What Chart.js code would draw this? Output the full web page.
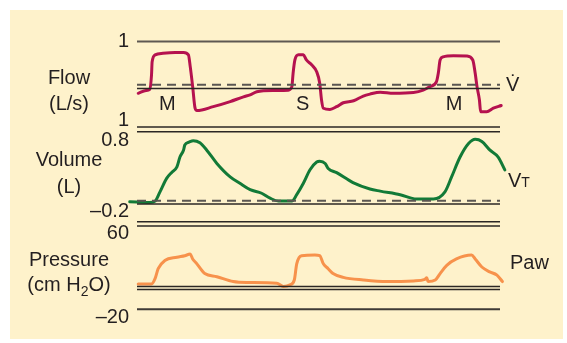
<!DOCTYPE html>
<html>
<head>
<meta charset="utf-8">
<script src="https://cdn.jsdelivr.net/npm/chart.js@4.4.1/dist/chart.umd.min.js"></script>
<style>
  body { margin: 0; background: #fff; }
  #wrap { position: relative; width: 567px; height: 343px; font-family: 'Liberation Sans', Arial, sans-serif; color: #231f20; }
  #bg { position: absolute; left: 10px; top: 10px; width: 553px; height: 329px; background: #fef2cb; }
  canvas { position: absolute; left: 0; top: 0; width: 567px; height: 343px; }
  .lbl { position: absolute; font-size: 20px; line-height: 20px; white-space: nowrap; transform: translate(-50%, -50%); }
  .side { position: absolute; font-size: 20px; line-height: 20px; white-space: nowrap; transform: translateY(-50%); }
</style>
</head>
<body>
<div id="wrap">
  <div id="bg"></div>
  <canvas id="flow-chart" width="567" height="343"></canvas>
  <canvas id="volume-chart" width="567" height="343"></canvas>
  <canvas id="pressure-chart" width="567" height="343"></canvas>

  <div class="lbl" style="left:69px; top:77px;">Flow</div>
  <div class="lbl" style="left:69px; top:103px;">(L/s)</div>
  <div class="lbl" style="left:69px; top:159px;">Volume</div>
  <div class="lbl" style="left:69px; top:186px;">(L)</div>
  <div class="lbl" style="left:69px; top:259px;">Pressure</div>
  <div class="lbl" style="left:69px; top:284px;">(cm H<sub style="font-size:14px; line-height:0; vertical-align:-5px;">2</sub>O)</div>

  <div class="side" style="left:506px; top:84px;">V&#775;</div>
  <div class="side" style="left:508px; top:181px;">V<span style="font-size:14px;">T</span></div>
  <div class="side" style="left:510px; top:262px;">Paw</div>
</div>

<script>
// time axis (s)
const timeMin = 0;
const timeMax = 6;

// flow trace (L/s)
const flowTime = [0.02, 0.15, 0.21, 0.24, 0.25, 0.30, 0.43, 0.63, 0.77, 0.85, 0.88, 0.92, 0.96, 0.99,
  1.26, 1.54, 1.76, 1.87, 1.98, 2.25, 2.50, 2.56, 2.58, 2.61, 2.67, 2.75, 2.80, 2.89, 2.97,
  3.02, 3.05, 3.08, 3.19, 3.30, 3.41, 3.58, 3.74, 3.85, 4.02, 4.24, 4.57, 4.73, 4.84, 4.95,
  4.98, 5.01, 5.06, 5.23, 5.45, 5.55, 5.59, 5.62, 5.66, 5.68, 5.78, 5.89, 6.02];
const flowValues = [-0.32, -0.25, -0.22, 0.15, 0.48, 0.66, 0.70, 0.72, 0.72, 0.66, 0.36, -0.15, -0.70, -0.76,
  -0.66, -0.53, -0.41, -0.36, -0.28, -0.25, -0.24, -0.15, 0.19, 0.53, 0.66, 0.66, 0.53, 0.40, 0.23,
  -0.06, -0.49, -0.70, -0.73, -0.66, -0.56, -0.51, -0.39, -0.34, -0.29, -0.32, -0.30, -0.24, -0.15, -0.02,
  0.19, 0.53, 0.61, 0.64, 0.63, 0.53, 0.19, -0.15, -0.49, -0.79, -0.79, -0.70, -0.63];

// volume trace (L)
const volumeTime = [-0.12, 0.21, 0.30, 0.38, 0.49, 0.57, 0.66, 0.71, 0.77, 0.79, 0.86, 0.93, 1.04, 1.15,
  1.32, 1.54, 1.70, 1.87, 2.06, 2.20, 2.34, 2.56, 2.64, 2.75, 2.86, 2.97, 3.02, 3.11, 3.16,
  3.30, 3.57, 3.85, 4.02, 4.35, 4.62, 4.90, 5.09, 5.20, 5.34, 5.48, 5.59, 5.70, 5.83, 5.97, 6.08];
const volumeValues = [-0.07, -0.08, -0.06, 0.07, 0.26, 0.34, 0.42, 0.56, 0.66, 0.73, 0.77, 0.79, 0.76, 0.66,
  0.47, 0.28, 0.19, 0.10, 0.05, -0.02, -0.06, -0.06, 0.03, 0.19, 0.38, 0.49, 0.50, 0.47, 0.40,
  0.34, 0.20, 0.11, 0.08, 0.03, -0.03, -0.03, 0.07, 0.28, 0.56, 0.75, 0.81, 0.78, 0.66, 0.56, 0.38];

// airway pressure trace (cm H2O)
const pressureTime = [0.02, 0.24, 0.30, 0.35, 0.46, 0.66, 0.79, 0.88, 0.92, 0.99, 1.07, 1.12, 1.32, 1.59,
  1.81, 2.31, 2.42, 2.53, 2.60, 2.64, 2.72, 2.94, 3.02, 3.08, 3.16, 3.24, 3.41, 3.74, 4.13,
  4.57, 4.76, 4.79, 4.81, 4.93, 5.01, 5.12, 5.28, 5.53, 5.59, 5.70, 5.83, 5.95, 6.04];
const pressureValues = [12.0, 12.0, 17.2, 26.4, 34.1, 37.2, 38.7, 40.2, 35.6, 31.0, 24.9, 21.8, 18.8, 14.2,
  13.3, 12.6, 9.6, 11.1, 15.7, 31.0, 38.7, 39.3, 38.7, 31.0, 26.4, 21.8, 18.2, 15.7, 14.2,
  14.8, 16.3, 17.9, 14.2, 15.7, 21.8, 29.5, 35.6, 39.3, 35.6, 28.0, 23.4, 20.3, 14.2];

// axis ticks
const flowTicks = [1, -1];
const volumeTicks = [0.8, -0.2];
const pressureTicks = [60, -20];

// reference levels
const flowSolidLevels = [-0.2];
const flowGreyLevels = [1];
const flowDashedLevels = [-0.1];
const volumeSolidLevels = [0.983, 0.917, -0.101, -0.351, -0.411];
const volumeDashedLevels = [-0.055];
const pressureSolidLevels = [9.6, 6.6];
const pressureGreyLevels = [-11.9];

// breath type marks on the flow trace
const breathLabels = ['M', 'S', 'M'];
const breathTimes = [0.5, 2.74, 5.24];
const breathLabelLevel = -0.6;

const FONT = "'Liberation Sans', Arial, sans-serif";
const TEXT = '#231f20';

function levelLine(v, color, width, dash) {
    return {
        data: [{ x: timeMin, y: v }, { x: timeMax, y: v }],
        borderColor: color,
        borderWidth: width,
        borderDash: dash || [],
        pointRadius: 0,
        clip: false
    };
}

function trace(time, values, color) {
    return {
        data: time.map((t, i) => ({ x: t, y: values[i] })),
        borderColor: color,
        borderWidth: 3,
        pointRadius: 0,
        cubicInterpolationMode: 'monotone',
        borderCapStyle: 'round',
        borderJoinStyle: 'round',
        clip: false
    };
}

function makePanel(id, datasets, yMin, yMax, padTop, padBottom, ticks, fmt, extraPlugins) {
    new Chart(document.getElementById(id).getContext('2d'), {
        type: 'line',
        data: { datasets: datasets },
        options: {
            responsive: false,
            animation: false,
            layout: { padding: { left: 0, right: 67, top: padTop, bottom: padBottom } },
            plugins: { legend: { display: false }, tooltip: { enabled: false } },
            scales: {
                x: { type: 'linear', min: timeMin, max: timeMax, display: false },
                y: {
                    min: yMin,
                    max: yMax,
                    afterFit: function (s) { s.width = 137; },
                    afterBuildTicks: function (s) { s.ticks = ticks.map(v => ({ value: v })); },
                    grid: { display: false, drawTicks: false },
                    border: { display: false },
                    ticks: {
                        padding: 8,
                        color: TEXT,
                        font: { family: FONT, size: 20 },
                        callback: fmt
                    }
                }
            }
        },
        plugins: extraPlugins || []
    });
}

const breathMarks = {
    id: 'breathMarks',
    afterDraw: function (chart) {
        const ctx = chart.ctx;
        ctx.save();
        ctx.fillStyle = TEXT;
        ctx.font = '20px ' + FONT;
        ctx.textAlign = 'center';
        ctx.textBaseline = 'middle';
        breathLabels.forEach(function (lab, i) {
            ctx.fillText(lab, chart.scales.x.getPixelForValue(breathTimes[i]), chart.scales.y.getPixelForValue(breathLabelLevel));
        });
        ctx.restore();
    }
};

const dash = [9, 6];

// Flow
makePanel('flow-chart',
    flowGreyLevels.map(v => levelLine(v, '#5e5852', 2))
        .concat(flowSolidLevels.map(v => levelLine(v, '#2b2724', 1.5)))
        .concat(flowDashedLevels.map(v => levelLine(v, '#5a5652', 2, dash)))
        .concat([trace(flowTime, flowValues, '#b5124f')]),
    -1, 1, 41.5, 223, flowTicks,
    v => String(Math.abs(v)), [breathMarks]);

// Volume
makePanel('volume-chart',
    volumeSolidLevels.map(v => levelLine(v, '#2b2724', 1.5))
        .concat(volumeDashedLevels.map(v => levelLine(v, '#5a5652', 2, dash)))
        .concat([trace(volumeTime, volumeValues, '#127a37')]),
    -0.45, 1.0, 125.8, 114.25, volumeTicks,
    v => (v < 0 ? '\u2013' + Math.abs(v) : String(v)));

// Pressure
makePanel('pressure-chart',
    pressureSolidLevels.map(v => levelLine(v, '#2b2724', 1.5))
        .concat(pressureGreyLevels.map(v => levelLine(v, '#3e3a36', 2)))
        .concat([trace(pressureTime, pressureValues, '#f7924c')]),
    -25, 70, 222.625, 17.06, pressureTicks,
    v => (v < 0 ? '\u2013' + Math.abs(v) : String(v)));
</script>
</body>
</html>
